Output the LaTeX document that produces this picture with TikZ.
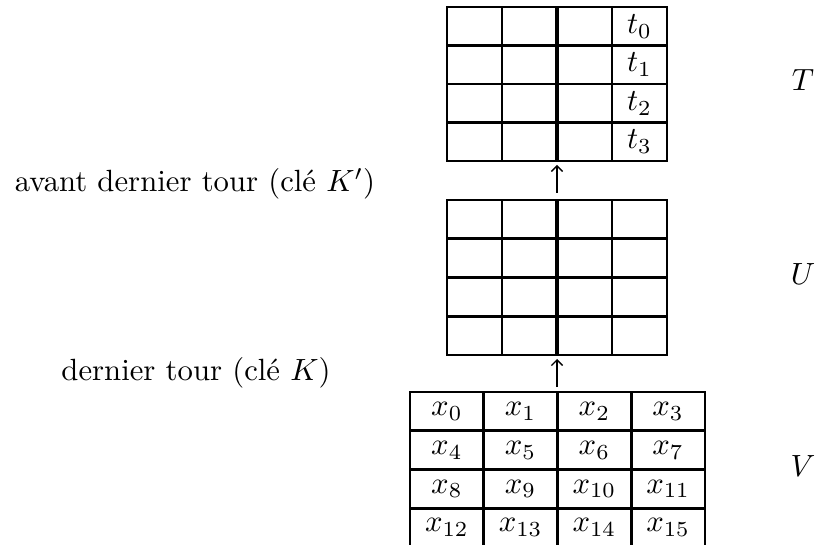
\documentclass[tikz,border=0pt]{standalone}
\usetikzlibrary{arrows.meta}
\begin{document}
\begin{tikzpicture}[x=0.3257pt,y=-0.3257pt,
  gridline/.style={line width=0.9pt},
  midline/.style={line width=1.1pt},
  tbl/.style={draw, line width=0.9pt, inner sep=0pt, outer sep=0pt},
  cell/.style={inner sep=0pt},
  lbl/.style={inner sep=0pt},
  up/.style={-{Straight Barb[length=1.8pt,width=3.6pt]}, line width=0.45pt}]
\clip (0,0) rectangle (816,544);
% table T
\node[tbl, minimum width=220*0.3257pt, minimum height=154*0.3257pt] (T) at (557,84) {};
\foreach \x in {502,612} \draw[gridline] (\x,7) -- (\x,161);
\draw[midline] (557,7) -- (557,161);
\foreach \y in {45.5,84,122.5} \draw[gridline] (447,\y) -- (667,\y);
\foreach \i/\y in {0/26.25,1/64.75,2/103.25,3/141.75}
  \node[cell] (t\i) at (639.5,\y) {$t_{\i}$};
% table U
\node[tbl, minimum width=220*0.3257pt, minimum height=155*0.3257pt] (U) at (557,277.5) {};
\foreach \x in {502,612} \draw[gridline] (\x,200) -- (\x,355);
\draw[midline] (557,200) -- (557,355);
\foreach \y in {238.75,316.25} \draw[gridline] (447,\y) -- (667,\y);
\draw[midline] (447,277.5) -- (667,277.5);
% table V
\node[tbl, minimum width=295*0.3257pt, minimum height=155*0.3257pt] (V) at (557.5,469.5) {};
\foreach \x in {483.75,631.25} \draw[gridline] (\x,392) -- (\x,547);
\draw[midline] (557.5,392) -- (557.5,547);
\foreach \y in {430.75,469.5,508.25} \draw[gridline] (410,\y) -- (705,\y);
\foreach \r/\y in {0/411.4,1/450.1,2/488.9,3/527.6}
  \foreach \c/\x in {0/446.9,1/520.6,2/594.4,3/668.1}
  {\pgfmathtruncatemacro{\k}{4*\r+\c}
   \node[cell] (x\k) at (\x,\y) {$x_{\k}$};}
% arrows
\draw[up, shorten >=1.3pt, shorten <=2.3pt] (U.north) -- (T.south);
\draw[up, shorten >=1.3pt, shorten <=1.6pt] (V.north -| U.south) -- (U.south);
% labels
\node[lbl] (lA) at (195,184) {avant dernier tour (clé $K'$)};
\node[lbl] (lB) at (196,373) {dernier tour (clé $K$)};
\node[lbl] (lT) at (803,80) {$T$};
\node[lbl] (lU) at (803,274) {$U$};
\node[lbl] (lV) at (803,466) {$V$};
\end{tikzpicture}
\end{document}
